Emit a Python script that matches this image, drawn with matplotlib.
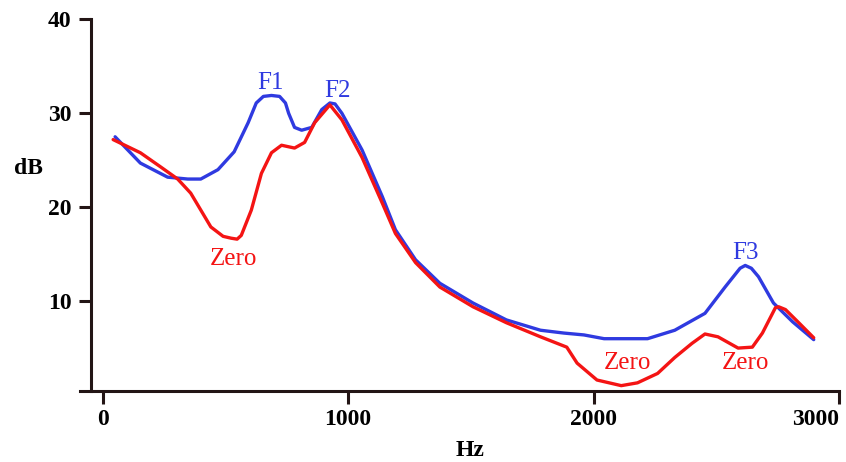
import matplotlib
matplotlib.use("Agg")
import matplotlib.pyplot as plt

# spectrum with formants (blue) and with zeros (red)
hz_blue = [51, 154, 265, 347, 400, 470, 536, 593, 626, 655, 688, 721, 745, 758,
           782, 811, 852, 893, 926, 947, 975, 1057, 1140, 1193, 1275, 1374, 1509,
           1645, 1784, 1879, 1961, 2043, 2220, 2331, 2454, 2536, 2597, 2618, 2643,
           2672, 2733, 2811, 2897]
db_blue = [27.5, 24.7, 23.2, 23.0, 23.0, 24.0, 25.9, 29.0, 31.1, 31.8, 31.9, 31.8,
           31.1, 30.0, 28.5, 28.2, 28.5, 30.4, 31.1, 31.0, 30.0, 26.1, 21.1, 17.6,
           14.4, 11.9, 9.8, 8.0, 6.9, 6.6, 6.4, 6.0, 6.0, 6.9, 8.7, 11.5, 13.5,
           13.8, 13.5, 12.6, 9.8, 7.8, 5.9]

hz_red = [43, 154, 236, 306, 359, 400, 441, 491, 524, 548, 565, 606, 647, 688,
          729, 782, 823, 864, 926, 975, 1057, 1140, 1193, 1275, 1374, 1509, 1645,
          1784, 1891, 1933, 2014, 2113, 2179, 2261, 2331, 2401, 2454, 2507, 2589,
          2647, 2688, 2741, 2754, 2782, 2836, 2897]
db_red = [27.2, 25.8, 24.3, 23.0, 21.5, 19.7, 17.9, 16.9, 16.7, 16.6, 17.0, 19.7,
          23.6, 25.8, 26.6, 26.3, 26.9, 29.0, 30.9, 29.3, 25.3, 20.4, 17.2, 14.1,
          11.5, 9.4, 7.7, 6.2, 5.1, 3.4, 1.6, 1.0, 1.3, 2.3, 4.0, 5.5, 6.5, 6.2,
          5.0, 5.1, 6.6, 9.3, 9.4, 9.1, 7.7, 6.1]

# labels: text, x (Hz), y (dB), colour
labels = [("F1", 684, 33.2, "blue"), ("F2", 955, 32.4, "blue"),
          ("F3", 2618, 15.1, "blue"), ("Zero", 532, 14.5, "red"),
          ("Zero", 2138, 3.4, "red"), ("Zero", 2618, 3.4, "red")]

x_ticks = [0, 1000, 2000, 3000]
y_ticks = [10, 20, 30, 40]

BLUE = "#2f3ae0"
RED = "#f41414"
AXC = "#231515"

plt.rcParams["font.family"] = ["Liberation Serif", "DejaVu Serif"]

fig = plt.figure(figsize=(8.46, 4.62), dpi=100)
ax = fig.add_axes([80 / 846, 1 - 391 / 462, 759 / 846, (391 - 19.4) / 462])

ax.plot(hz_blue, db_blue, color=BLUE, lw=2.4, solid_capstyle="round",
        solid_joinstyle="round")
ax.plot(hz_red, db_red, color=RED, lw=2.4, solid_capstyle="round",
        solid_joinstyle="round")

for txt, x, y, c in labels:
    ax.text(x, y, txt, color=BLUE if c == "blue" else RED, fontsize=18,
            ha="center", va="center")

ax.set_xlim(-92, 3000)
ax.set_ylim(0.43, 40)
ax.set_xticks(x_ticks)
ax.set_yticks(y_ticks)

for s in ["top", "right"]:
    ax.spines[s].set_visible(False)
ax.spines["left"].set_position(("data", -47))
for s in ["left", "bottom"]:
    ax.spines[s].set_linewidth(2.2)
    ax.spines[s].set_color(AXC)

ax.tick_params(axis="both", direction="out", length=9, width=2.2, color=AXC,
               labelsize=17)
ax.tick_params(axis="y", pad=5)
ax.tick_params(axis="x", pad=4)
for lab in ax.get_xticklabels() + ax.get_yticklabels():
    lab.set_fontweight("bold")
# last x label sits flush with the end of the axis
ax.get_xticklabels()[-1].set_horizontalalignment("right")

fig.text(28 / 846, 1 - 168 / 462, "dB", fontsize=17, fontweight="bold",
         ha="center", va="center")
fig.text(470 / 846, 1 - 450 / 462, "Hz", fontsize=17, fontweight="bold",
         ha="center", va="center")

fig.savefig("out.png", dpi=100)
